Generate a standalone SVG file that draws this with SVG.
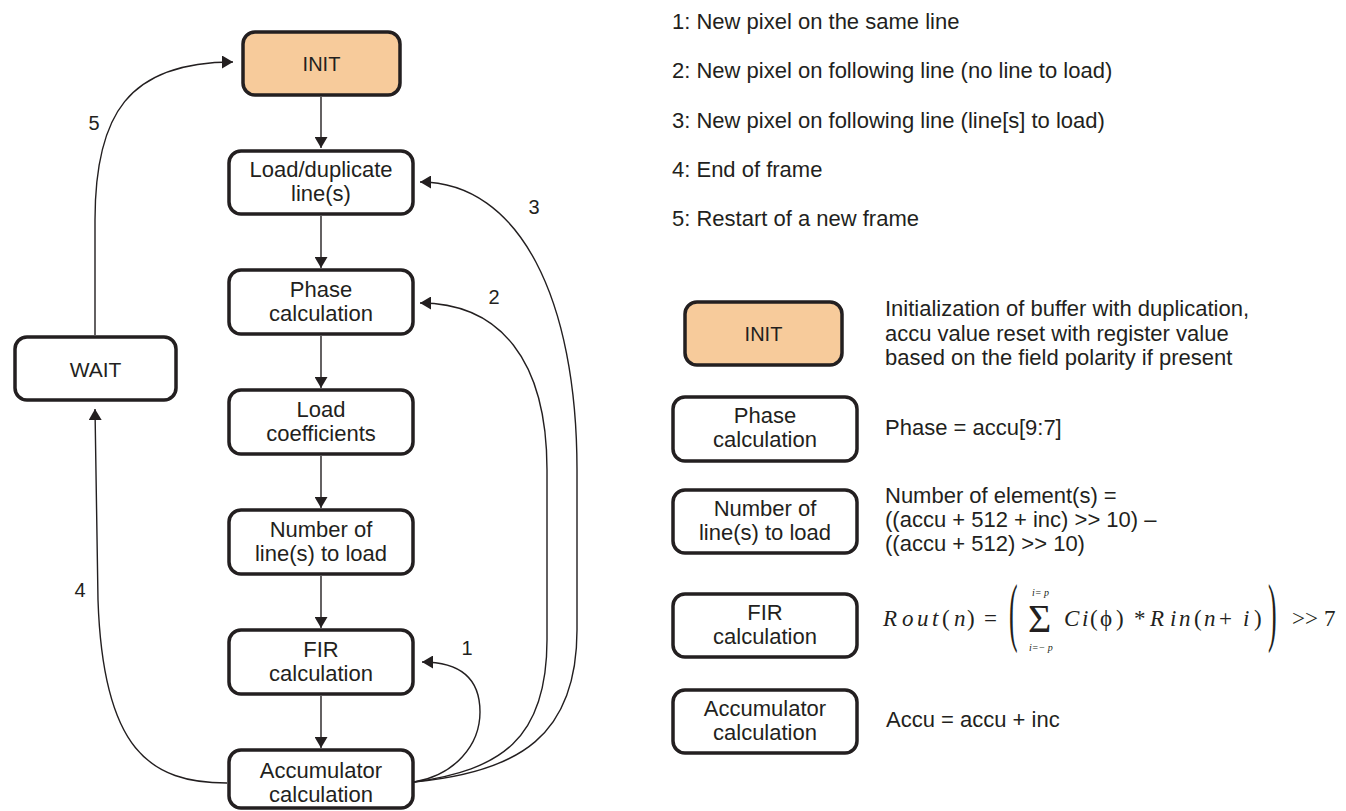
<svg xmlns="http://www.w3.org/2000/svg" width="1346" height="811" viewBox="0 0 1346 811">
<style>
.box{fill:#ffffff;stroke:#231f20;stroke-width:3.5}
.init{fill:#f7cb9b}
.t{font-family:"Liberation Sans",Arial,sans-serif;font-size:22px;fill:#231f20}
.tc{text-anchor:middle}
.c{fill:none;stroke:#231f20;stroke-width:1.4}
.m{font-family:"Liberation Serif","Times New Roman",serif;font-size:23px;fill:#231f20}
.it{font-style:italic}
.sm{font-family:"Liberation Serif","Times New Roman",serif;font-size:10px;font-style:italic;fill:#231f20}
</style>
<defs>
<marker id="ah" viewBox="0 0 11 13" refX="11" refY="6.5" markerWidth="11" markerHeight="13" orient="auto" markerUnits="userSpaceOnUse">
<path d="M0,0 L11,6.5 L0,13 Z" fill="#231f20"/>
</marker>
</defs>

<g id="connectors">
<path class="c" marker-end="url(#ah)" d="M321,97 L321,148"/>
<path class="c" marker-end="url(#ah)" d="M321,216 L321,268"/>
<path class="c" marker-end="url(#ah)" d="M321,336 L321,388"/>
<path class="c" marker-end="url(#ah)" d="M321,456 L321,508"/>
<path class="c" marker-end="url(#ah)" d="M321,576 L321,628"/>
<path class="c" marker-end="url(#ah)" d="M321,696 L321,748"/>
<path class="c" marker-end="url(#ah)" d="M95,335 L95,220 C95,115 128,62 233,62"/>
<path class="c" marker-end="url(#ah)" d="M227,783 C150,783 103,750 98,600 L95,409"/>
<path class="c" marker-end="url(#ah)" d="M414,782 C455,775 480,745 480,712 C480,680 462,662 422,662"/>
<path class="c" marker-end="url(#ah)" d="M414,782 C500,770 547,740 547,640 L547,470 C547,360 500,303 420,303"/>
<path class="c" marker-end="url(#ah)" d="M414,782 C520,772 577,735 577,630 L577,470 C577,300 520,182 420,182"/>
<text class="t tc" x="94" y="130" style="font-size:20px">5</text>
<text class="t tc" x="80" y="597" style="font-size:20px">4</text>
<text class="t tc" x="534" y="214" style="font-size:20px">3</text>
<text class="t tc" x="494" y="304" style="font-size:20px">2</text>
<text class="t tc" x="467" y="655" style="font-size:20px">1</text>
</g>

<g id="node-init">
<rect class="box init" x="243" y="32" width="157" height="63" rx="12"/>
<text class="t tc" x="321.5" y="71" style="font-size:20px">INIT</text>
</g>
<g id="node-load-dup">
<rect class="box" x="229" y="151" width="184" height="63" rx="12"/>
<text class="t tc" x="321" y="177">Load/duplicate</text>
<text class="t tc" x="321" y="201">line(s)</text>
</g>
<g id="node-phase">
<rect class="box" x="229" y="270" width="184" height="64" rx="12"/>
<text class="t tc" x="321" y="297">Phase</text>
<text class="t tc" x="321" y="321">calculation</text>
</g>
<g id="node-coeff">
<rect class="box" x="229" y="390" width="184" height="64" rx="12"/>
<text class="t tc" x="321" y="417">Load</text>
<text class="t tc" x="321" y="441">coefficients</text>
</g>
<g id="node-number">
<rect class="box" x="229" y="510" width="184" height="64" rx="12"/>
<text class="t tc" x="321" y="537">Number of</text>
<text class="t tc" x="321" y="561">line(s) to load</text>
</g>
<g id="node-fir">
<rect class="box" x="229" y="630" width="184" height="64" rx="12"/>
<text class="t tc" x="321" y="657">FIR</text>
<text class="t tc" x="321" y="681">calculation</text>
</g>
<g id="node-accu">
<rect class="box" x="229" y="750" width="184" height="58" rx="12"/>
<text class="t tc" x="321" y="778">Accumulator</text>
<text class="t tc" x="321" y="802">calculation</text>
</g>
<g id="node-wait">
<rect class="box" x="15" y="337" width="161" height="63" rx="12"/>
<text class="t tc" x="95.5" y="377" style="font-size:21px">WAIT</text>
</g>

<g id="legend-list">
<text class="t" x="672" y="29">1: New pixel on the same line</text>
<text class="t" x="672" y="78">2: New pixel on following line (no line to load)</text>
<text class="t" x="672" y="128">3: New pixel on following line (line[s] to load)</text>
<text class="t" x="672" y="177">4: End of frame</text>
<text class="t" x="672" y="226">5: Restart of a new frame</text>
</g>

<g id="legend-init">
<rect class="box init" x="685" y="302" width="157" height="63" rx="12"/>
<text class="t tc" x="763.5" y="341" style="font-size:20px">INIT</text>
<text class="t" x="885" y="316">Initialization of buffer with duplication,</text>
<text class="t" x="885" y="341">accu value reset with register value</text>
<text class="t" x="885" y="365">based on the field polarity if present</text>
</g>
<g id="legend-phase">
<rect class="box" x="673" y="397" width="184" height="64" rx="12"/>
<text class="t tc" x="765" y="423">Phase</text>
<text class="t tc" x="765" y="447">calculation</text>
<text class="t" x="885" y="435">Phase = accu[9:7]</text>
</g>
<g id="legend-number">
<rect class="box" x="673" y="490" width="184" height="63" rx="12"/>
<text class="t tc" x="765" y="516">Number of</text>
<text class="t tc" x="765" y="540">line(s) to load</text>
<text class="t" x="885" y="503">Number of element(s) =</text>
<text class="t" x="885" y="527">((accu + 512 + inc) &gt;&gt; 10) –</text>
<text class="t" x="885" y="551">((accu + 512) &gt;&gt; 10)</text>
</g>
<g id="legend-fir">
<rect class="box" x="673" y="594" width="184" height="63" rx="12"/>
<text class="t tc" x="765" y="620">FIR</text>
<text class="t tc" x="765" y="644">calculation</text>
<text class="m"><tspan class="it" x="883" y="626">R</tspan><tspan class="it" x="902" y="626">o</tspan><tspan class="it" x="917" y="626">u</tspan><tspan class="it" x="932" y="626">t</tspan><tspan x="942" y="626">(</tspan><tspan class="it" x="954" y="626">n</tspan><tspan x="967" y="626">)</tspan><tspan x="984" y="626">=</tspan></text>
<text class="m" transform="translate(1009,637) scale(0.34,1)" style="font-size:76px">(</text>
<text class="m" x="1028" y="632" style="font-size:40px">Σ</text>
<text class="sm" x="1032" y="596">i= p</text>
<text class="sm" x="1029" y="651">i=− p</text>
<text class="m"><tspan class="it" x="1064" y="626">C</tspan><tspan class="it" x="1082" y="626">i</tspan><tspan x="1090" y="626">(</tspan><tspan x="1100" y="626">ϕ</tspan><tspan x="1116" y="626">)</tspan><tspan x="1134" y="626">*</tspan><tspan class="it" x="1150" y="626">R</tspan><tspan class="it" x="1170" y="626">i</tspan><tspan class="it" x="1179" y="626">n</tspan><tspan x="1194" y="626">(</tspan><tspan class="it" x="1204" y="626">n</tspan><tspan x="1219" y="626">+</tspan><tspan class="it" x="1243" y="626">i</tspan><tspan x="1254" y="626">)</tspan><tspan x="1292" y="626">&gt;&gt;</tspan><tspan x="1324" y="626">7</tspan></text>
<text class="m" transform="translate(1268,637) scale(0.34,1)" style="font-size:76px">)</text>
</g>
<g id="legend-accu">
<rect class="box" x="673" y="690" width="184" height="63" rx="12"/>
<text class="t tc" x="765" y="716">Accumulator</text>
<text class="t tc" x="765" y="740">calculation</text>
<text class="t" x="886" y="727">Accu = accu + inc</text>
</g>
</svg>
